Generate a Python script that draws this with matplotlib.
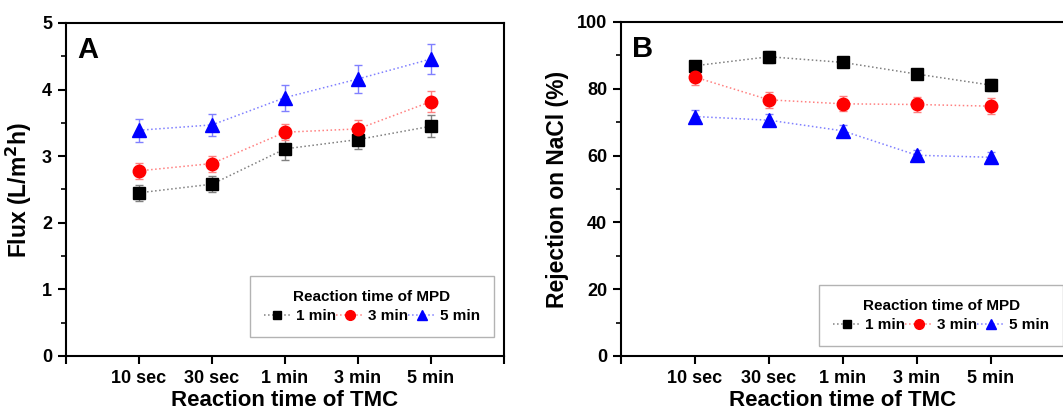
import matplotlib
matplotlib.use("Agg")
import matplotlib.pyplot as plt
from matplotlib.lines import Line2D
from matplotlib.ticker import MultipleLocator, FixedLocator

plt.rcParams['font.family'] = ['Liberation Sans', 'DejaVu Sans']
plt.rcParams['font.weight'] = 'bold'

tmc_times = ['10 sec', '30 sec', '1 min', '3 min', '5 min']
mpd_labels = ['1 min', '3 min', '5 min']

# Panel A: flux (L/m2h)
flux_1min = [2.45, 2.58, 3.11, 3.25, 3.45]
flux_3min = [2.78, 2.89, 3.36, 3.41, 3.82]
flux_5min = [3.39, 3.47, 3.88, 4.16, 4.46]
flux_err_1min = [0.125, 0.125, 0.16, 0.14, 0.165]
flux_err_3min = [0.12, 0.12, 0.12, 0.135, 0.16]
flux_err_5min = [0.17, 0.17, 0.195, 0.21, 0.225]

# Panel B: NaCl rejection (%)
rej_1min = [86.9, 89.6, 87.9, 84.4, 81.1]
rej_3min = [83.5, 76.7, 75.5, 75.3, 74.8]
rej_5min = [71.7, 70.6, 67.4, 60.1, 59.5]
rej_err_1min = [1.5, 1.8, 1.5, 1.5, 1.8]
rej_err_3min = [2.5, 2.3, 2.2, 2.3, 2.3]
rej_err_5min = [2.0, 1.8, 1.8, 1.6, 1.6]

styles = [
    dict(marker='s', mc='black', lc='#808080', ms=8.5, lms=6),
    dict(marker='o', mc='red', lc='#ff8080', ms=9, lms=7),
    dict(marker='^', mc='blue', lc='#8080ff', ms=10, lms=7.5),
]

W, H = 1063, 413
fig = plt.figure(figsize=(W / 100, H / 100), dpi=100)
axA = fig.add_axes([66 / W, 1 - 356 / H, 438 / W, 333 / H])
axB = fig.add_axes([621 / W, 1 - 356 / H, 444 / W, 334 / H])

x = [1, 2, 3, 4, 5]


def draw(ax, series, errs, ylim, major, minor, ylabel, letter, leg_anchor):
    handles = []
    for y, e, lab, st in zip(series, errs, mpd_labels, styles):
        ax.errorbar(x, y, yerr=e, color=st['lc'], ls=':', lw=1.1,
                    marker=st['marker'], ms=st['ms'], mfc=st['mc'], mec=st['mc'],
                    ecolor=st['lc'], elinewidth=1, capsize=3, capthick=1)
        handles.append(Line2D([], [], color=st['lc'], ls=':', lw=1.1,
                              marker=st['marker'], ms=st['lms'],
                              mfc=st['mc'], mec=st['mc'], label=lab))
    ax.set_xlim(0, 6)
    ax.set_ylim(*ylim)
    ax.xaxis.set_major_locator(FixedLocator([0, 1, 2, 3, 4, 5, 6]))
    ax.set_xticklabels([''] + tmc_times + [''])
    ax.yaxis.set_major_locator(MultipleLocator(major))
    ax.yaxis.set_minor_locator(MultipleLocator(minor))
    ax.tick_params(axis='both', which='major', direction='out', length=6, width=1.5,
                   labelsize=13, pad=4)
    ax.tick_params(axis='y', which='minor', direction='out', length=3.5, width=1.2)
    for s in ax.spines.values():
        s.set_linewidth(1.5)
    ax.set_xlabel('Reaction time of TMC', fontsize=16, fontweight='bold', labelpad=2)
    ax.set_ylabel(ylabel, fontsize=16.5, fontweight='bold', labelpad=6)
    ax.text(0.025, 0.96, letter, transform=ax.transAxes, fontsize=21,
            fontweight='bold', va='top', ha='left')
    leg = ax.legend(handles=handles, loc='upper left', bbox_to_anchor=leg_anchor,
                    ncol=3, title='Reaction time of MPD', fontsize=11,
                    title_fontproperties={'weight': 'bold', 'size': 11},
                    frameon=True, fancybox=False, edgecolor='#a0a0a0',
                    handlelength=1.8, handletextpad=0.3, columnspacing=0.0,
                    borderpad=0.9, labelspacing=0.2, borderaxespad=0)
    leg.get_frame().set_linewidth(1.0)
    leg._legend_box.sep = 4
    for t in leg.get_texts():
        t.set_fontweight('bold')


draw(axA, [flux_1min, flux_3min, flux_5min],
     [flux_err_1min, flux_err_3min, flux_err_5min],
     (0, 5), 1, 0.5, 'Flux (L/m$^{\\mathbf{2}}$h)', 'A', (0.42, 0.24))
draw(axB, [rej_1min, rej_3min, rej_5min],
     [rej_err_1min, rej_err_3min, rej_err_5min],
     (0, 100), 20, 10, 'Rejection on NaCl (%)', 'B', (0.446, 0.213))

fig.savefig('out.png', dpi=100)
